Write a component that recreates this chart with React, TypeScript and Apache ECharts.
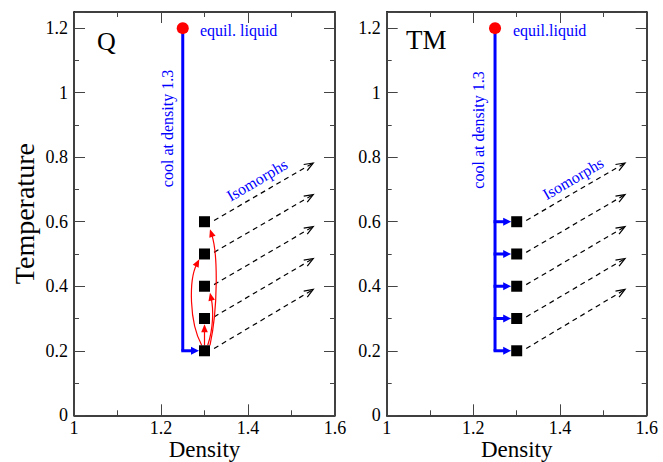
import React, { useEffect, useRef } from "react";
import * as echarts from "echarts";

// ---- data ----
const panelTitles = ["Q", "TM"];
const liquidLabels = ["equil. liquid", "equil.liquid"];
const coolLabel = "cool at density 1.3";
const isoLabel = "Isomorphs";
const startPoint = [1.25, 1.2];
const coolLine = [
  [1.25, 1.2],
  [1.25, 0.2],
];
const squareDensity = 1.3;
const squareTemps = [0.2, 0.3, 0.4, 0.5, 0.6];
// [fromDensity, T, toDensity, T]
const blueArrowsLeft = [[1.25, 0.2, 1.3, 0.2]];
const blueArrowsRight = [
  [1.25, 0.2, 1.3, 0.2],
  [1.25, 0.3, 1.3, 0.3],
  [1.25, 0.4, 1.3, 0.4],
  [1.25, 0.5, 1.3, 0.5],
  [1.25, 0.6, 1.3, 0.6],
];
// isomorph dashed arrows [x0, y0, x1, y1]
const isomorphs = [
  [1.322, 0.207, 1.55, 0.39],
  [1.322, 0.305, 1.55, 0.486],
  [1.322, 0.405, 1.55, 0.585],
  [1.322, 0.505, 1.55, 0.684],
  [1.322, 0.604, 1.55, 0.782],
];
// red curved arrows (Q only): [x0,y0, cx1,cy1, cx2,cy2, x3,y3]
const redCurves = [
  [1.3, 0.217, 1.3, 0.24, 1.3, 0.26, 1.3, 0.282],
  [1.3074, 0.217, 1.3207, 0.27, 1.3207, 0.33, 1.3126, 0.38],
  [1.2935, 0.217, 1.2643, 0.29, 1.2643, 0.42, 1.288, 0.484],
  [1.3126, 0.217, 1.331, 0.33, 1.331, 0.5, 1.3126, 0.577],
];

const FONT = "'Liberation Serif', 'Times New Roman', serif";
const BLUE = "#0000ff";
const RED = "#ff0000";

const blueArrowItem = (params: any, api: any) => {
  const p0 = api.coord([api.value(0), api.value(1)]);
  const p1 = api.coord([api.value(2), api.value(3)]);
  const tipX = p1[0] - 5.5;
  const L = 8;
  const w = 4;
  return {
    type: "group",
    children: [
      {
        type: "line",
        shape: { x1: p0[0] - 1.5, y1: p0[1], x2: tipX - L + 1, y2: p1[1] },
        style: { stroke: BLUE, lineWidth: 3 },
      },
      {
        type: "polygon",
        shape: {
          points: [
            [tipX, p1[1]],
            [tipX - L, p1[1] - w],
            [tipX - L, p1[1] + w],
          ],
        },
        style: { fill: BLUE },
      },
    ],
  };
};

const dashArrowItem = (params: any, api: any) => {
  const a = api.coord([api.value(0), api.value(1)]);
  const b = api.coord([api.value(2), api.value(3)]);
  const dx = b[0] - a[0];
  const dy = b[1] - a[1];
  const len = Math.hypot(dx, dy);
  const ux = dx / len;
  const uy = dy / len;
  const L = 9;
  const w = 3.5;
  const bx = b[0] - ux * L;
  const by = b[1] - uy * L;
  const nx = -uy;
  const ny = ux;
  return {
    type: "group",
    children: [
      {
        type: "line",
        shape: { x1: a[0], y1: a[1], x2: b[0], y2: b[1] },
        style: { stroke: "#000", lineWidth: 1.2, lineDash: [5, 4] },
      },
      {
        type: "polyline",
        shape: {
          points: [
            [bx + nx * w, by + ny * w],
            [b[0], b[1]],
            [bx - nx * w, by - ny * w],
          ],
        },
        style: { stroke: "#000", lineWidth: 1.2, fill: null },
      },
    ],
  };
};

const curveItem = (params: any, api: any) => {
  const p0 = api.coord([api.value(0), api.value(1)]);
  const c1 = api.coord([api.value(2), api.value(3)]);
  const c2 = api.coord([api.value(4), api.value(5)]);
  const p3 = api.coord([api.value(6), api.value(7)]);
  let dx = p3[0] - c2[0];
  let dy = p3[1] - c2[1];
  if (Math.hypot(dx, dy) < 1e-6) {
    dx = p3[0] - p0[0];
    dy = p3[1] - p0[1];
  }
  const len = Math.hypot(dx, dy);
  const ux = dx / len;
  const uy = dy / len;
  const L = 8;
  const w = 3.3;
  const bx = p3[0] - ux * L;
  const by = p3[1] - uy * L;
  const nx = -uy;
  const ny = ux;
  return {
    type: "group",
    children: [
      {
        type: "bezierCurve",
        shape: {
          x1: p0[0],
          y1: p0[1],
          cpx1: c1[0],
          cpy1: c1[1],
          cpx2: c2[0],
          cpy2: c2[1],
          x2: bx + ux * 2,
          y2: by + uy * 2,
        },
        style: { stroke: RED, lineWidth: 1.2, fill: null },
      },
      {
        type: "polygon",
        shape: {
          points: [
            [p3[0], p3[1]],
            [bx + nx * w, by + ny * w],
            [bx - nx * w, by - ny * w],
          ],
        },
        style: { fill: RED },
      },
    ],
  };
};

export default function App() {
  const ref = useRef<HTMLDivElement>(null);

  useEffect(() => {
    if (!ref.current) return;
    const chart = echarts.init(ref.current, null, { renderer: "svg" });

    const grids = [
      { left: 74, top: 12, width: 261, height: 403.3, outerBoundsMode: "none", containLabel: false },
      { left: 386.7, top: 12, width: 260, height: 403.3, outerBoundsMode: "none", containLabel: false },
    ];

    const tickStyle = { color: "#444", width: 1 };
    const axisLineStyle = { color: "#000", width: 1.5 };

    const xAxes: any[] = [];
    const yAxes: any[] = [];
    [0, 1].forEach((g) => {
      xAxes.push({
        gridIndex: g,
        type: "value",
        min: 1,
        max: 1.6,
        interval: 0.2,
        position: "bottom",
        name: "Density",
        nameLocation: "middle",
        nameGap: 23,
        nameMoveOverlap: false,
        nameTextStyle: { fontFamily: FONT, fontSize: 23, color: "#000" },
        axisLine: { onZero: false, lineStyle: axisLineStyle },
        axisTick: { inside: true, length: 11, lineStyle: tickStyle },
        minorTick: { show: true, splitNumber: 2, length: 5, lineStyle: tickStyle },
        axisLabel: { margin: 4, fontFamily: FONT, fontSize: 18, color: "#000" },
        splitLine: { show: false },
      });
    });
    [0, 1].forEach((g) => {
      xAxes.push({
        gridIndex: g,
        type: "value",
        min: 1,
        max: 1.6,
        interval: 0.2,
        position: "top",
        axisLine: { onZero: false, lineStyle: axisLineStyle },
        axisTick: { inside: true, length: 11, lineStyle: tickStyle },
        minorTick: { show: true, splitNumber: 2, length: 5, lineStyle: tickStyle },
        axisLabel: { show: false },
        splitLine: { show: false },
      });
    });
    [0, 1].forEach((g) => {
      yAxes.push({
        gridIndex: g,
        type: "value",
        min: 0,
        max: 1.25,
        interval: 0.2,
        position: "left",
        name: g === 0 ? "Temperature" : "",
        nameLocation: "middle",
        nameGap: 36,
        nameMoveOverlap: false,
        nameRotate: 90,
        nameTextStyle: { fontFamily: FONT, fontSize: 28, color: "#000" },
        axisLine: { onZero: false, lineStyle: axisLineStyle },
        axisTick: { inside: true, length: 11, lineStyle: tickStyle },
        minorTick: { show: true, splitNumber: 2, length: 5, lineStyle: tickStyle },
        axisLabel: {
          margin: 6,
          fontFamily: FONT,
          fontSize: 18,
          color: "#000",
          showMaxLabel: false,
        },
        splitLine: { show: false },
      });
    });
    [0, 1].forEach((g) => {
      yAxes.push({
        gridIndex: g,
        type: "value",
        min: 0,
        max: 1.25,
        interval: 0.2,
        position: "right",
        axisLine: { onZero: false, lineStyle: axisLineStyle },
        axisTick: { inside: true, length: 11, lineStyle: tickStyle },
        minorTick: { show: true, splitNumber: 2, length: 5, lineStyle: tickStyle },
        axisLabel: { show: false },
        splitLine: { show: false },
      });
    });

    const series: any[] = [];
    [0, 1].forEach((g) => {
      series.push({
        type: "line",
        xAxisIndex: g,
        yAxisIndex: g,
        data: coolLine,
        symbol: "none",
        lineStyle: { color: BLUE, width: 3 },
        z: 2,
      });
      series.push({
        type: "custom",
        xAxisIndex: g,
        yAxisIndex: g,
        data: g === 0 ? blueArrowsLeft : blueArrowsRight,
        renderItem: blueArrowItem,
        z: 3,
      });
      series.push({
        type: "custom",
        xAxisIndex: g,
        yAxisIndex: g,
        data: isomorphs,
        renderItem: dashArrowItem,
        z: 3,
      });
      series.push({
        type: "scatter",
        xAxisIndex: g,
        yAxisIndex: g,
        data: squareTemps.map((t) => [squareDensity, t]),
        symbol: "rect",
        symbolSize: 11,
        itemStyle: { color: "#000", opacity: 1 },
        z: 5,
      });
      series.push({
        type: "scatter",
        xAxisIndex: g,
        yAxisIndex: g,
        data: [startPoint],
        symbol: "circle",
        symbolSize: 12,
        itemStyle: { color: RED, opacity: 1 },
        z: 5,
      });
    });
    series.push({
      type: "custom",
      xAxisIndex: 0,
      yAxisIndex: 0,
      data: redCurves,
      renderItem: curveItem,
      z: 4,
    });

    const textBase = { fontFamily: FONT };
    const graphic: any[] = [
      {
        type: "text",
        x: 97,
        y: 41,
        style: { ...textBase, text: panelTitles[0], fontSize: 26, fill: "#000", textAlign: "left", textVerticalAlign: "middle" },
      },
      {
        type: "text",
        x: 406,
        y: 40,
        style: { ...textBase, text: panelTitles[1], fontSize: 27, fill: "#000", textAlign: "left", textVerticalAlign: "middle" },
      },
      {
        type: "text",
        x: 200,
        y: 30,
        style: { ...textBase, text: liquidLabels[0], fontSize: 16, fill: BLUE, textAlign: "left", textVerticalAlign: "middle" },
      },
      {
        type: "text",
        x: 513,
        y: 30,
        style: { ...textBase, text: liquidLabels[1], fontSize: 16, fill: BLUE, textAlign: "left", textVerticalAlign: "middle" },
      },
      {
        type: "text",
        x: 167.5,
        y: 128.5,
        rotation: Math.PI / 2,
        style: { ...textBase, text: coolLabel, fontSize: 16, fill: BLUE, textAlign: "center", textVerticalAlign: "middle" },
      },
      {
        type: "text",
        x: 478.5,
        y: 130,
        rotation: Math.PI / 2,
        style: { ...textBase, text: coolLabel, fontSize: 16, fill: BLUE, textAlign: "center", textVerticalAlign: "middle" },
      },
      {
        type: "text",
        x: 257,
        y: 180,
        rotation: 0.53,
        style: { ...textBase, text: isoLabel, fontSize: 16, fill: BLUE, textAlign: "center", textVerticalAlign: "middle" },
      },
      {
        type: "text",
        x: 573,
        y: 178.5,
        rotation: 0.53,
        style: { ...textBase, text: isoLabel, fontSize: 16, fill: BLUE, textAlign: "center", textVerticalAlign: "middle" },
      },
    ];

    chart.setOption({
      animation: false,
      backgroundColor: "#fff",
      grid: grids,
      xAxis: xAxes,
      yAxis: yAxes,
      series,
      graphic,
    });

    return () => chart.dispose();
  }, []);

  return (
    <div
      ref={ref}
      style={{ position: "absolute", left: 0, top: 0, width: 663, height: 462 }}
    />
  );
}
